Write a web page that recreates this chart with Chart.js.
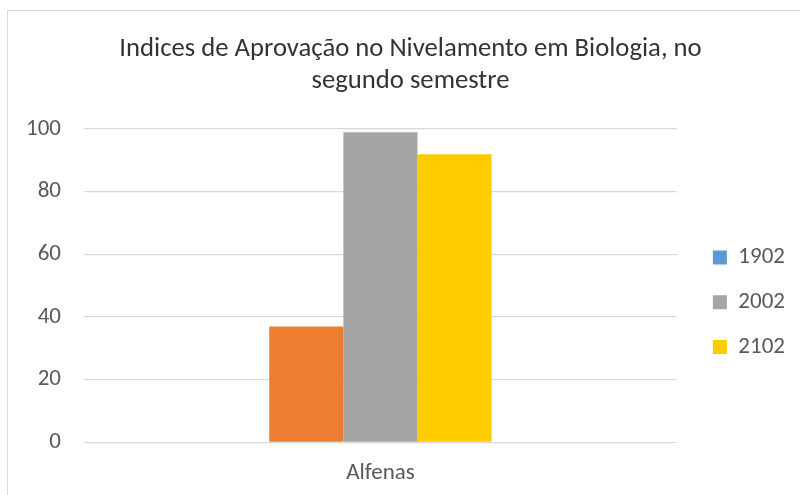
<!DOCTYPE html>
<html>
<head>
<meta charset="utf-8">
<script src="https://cdn.jsdelivr.net/npm/chart.js@4"></script>
<style>
  html, body { margin: 0; padding: 0; background: #fff; }
  #wrap { position: relative; width: 800px; height: 495px; overflow: hidden; }
  #frame { position: absolute; left: 7px; top: 10px; width: 820px; height: 520px; border: 1px solid #d9d9d9; }
  canvas { position: absolute; left: 0; top: 0; }
</style>
</head>
<body>
<div id="wrap">
  <div id="frame"></div>
  <canvas id="chart" width="800" height="495"></canvas>
</div>
<script>
const categories = ["Alfenas"];
const seriesNames = ["1902", "2002", "2102"];
const values1902 = [37];
const values2002 = [99];
const values2102 = [92];
const yTicks = [0, 20, 40, 60, 80, 100];

const barColors = ["#ED7D31", "#A5A5A5", "#FFCC00"];
const legendColors = ["#5B9BD5", "#A5A5A5", "#FFCC00"];
const FONT = "Carlito, 'Open Sans', 'Liberation Sans', sans-serif";

Chart.defaults.font.family = FONT;
Chart.defaults.color = "#595959";

const seriesValues = [values1902, values2002, values2102];

const ctx = document.getElementById("chart");
const chart = new Chart(ctx, {
    type: "bar",
    data: {
        labels: categories,
        datasets: seriesNames.map((name, i) => ({
            label: name,
            data: seriesValues[i],
            backgroundColor: barColors[i],
            borderWidth: 0
        }))
    },
    options: {
        responsive: false,
        animation: false,
        categoryPercentage: 0.375,
        barPercentage: 1,
        layout: { padding: { left: 26, right: 5, top: 0, bottom: 0 } },
        plugins: {
            title: {
                display: true,
                text: ["Indices de Aprovação no Nivelamento em Biologia, no", "segundo semestre"],
                color: "#333333",
                font: { size: 26.7, weight: "normal", lineHeight: 1.2 },
                padding: { top: 33, bottom: 32 }
            },
            legend: {
                position: "right",
                title: { display: true, text: "", padding: { top: 95, bottom: 0 } },
                labels: {
                    boxWidth: 14,
                    boxHeight: 14,
                    padding: 21.7,
                    font: { size: 23 },
                    generateLabels: (c) => {
                        // the 1902 swatch keeps its blue series colour, as in the source
                        return c.data.datasets.map((ds, i) => ({
                            text: ds.label,
                            fillStyle: legendColors[i],
                            strokeStyle: legendColors[i],
                            lineWidth: 0,
                            fontColor: "#595959",
                            datasetIndex: i
                        }));
                    }
                }
            },
            tooltip: { enabled: false }
        },
        scales: {
            x: {
                grid: { display: false },
                border: { display: false },
                ticks: { font: { size: 23 }, padding: 9.3 },
                afterFit: (s) => { s.height = 52.7; }
            },
            y: {
                min: 0,
                max: 100,
                afterBuildTicks: (axis) => { axis.ticks = yTicks.map(v => ({ value: v })); },
                grid: { color: "#d9d9d9", lineWidth: 1.3, drawTicks: false },
                border: { display: false },
                ticks: { font: { size: 23 }, padding: 23 },
                afterFit: (s) => { s.width = 58; }
            },
            gap: {
                type: "linear",
                position: "right",
                display: true,
                grid: { display: false },
                border: { display: false },
                ticks: { display: false },
                afterFit: (s) => { s.width = 14.3; }
            }
        }
    }
});
</script>
</body>
</html>
